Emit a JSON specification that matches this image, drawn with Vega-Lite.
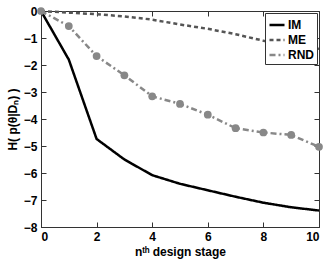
{
  "$schema": "https://vega.github.io/schema/vega-lite/v6.json",
  "width": 278,
  "height": 216,
  "autosize": "none",
  "padding": {"left": 41, "top": 11, "right": 13, "bottom": 34},
  "background": "white",
  "config": {
    "font": "Liberation Sans",
    "view": {"stroke": "#333", "strokeWidth": 1},
    "axis": {
      "grid": false,
      "domainColor": "#333",
      "tickColor": "#333",
      "labelFont": "Liberation Sans",
      "labelFontWeight": "bold",
      "labelFontSize": 12,
      "labelColor": "black",
      "titleFont": "Liberation Sans",
      "titleFontWeight": "bold",
      "titleFontSize": 12,
      "titleColor": "black",
      "tickSize": -5
    }
  },
  "data": {
    "values": [
      {"stage": 0, "series": "IM", "H": 0},
      {"stage": 1, "series": "IM", "H": -1.8},
      {"stage": 2, "series": "IM", "H": -4.74},
      {"stage": 3, "series": "IM", "H": -5.5},
      {"stage": 4, "series": "IM", "H": -6.08},
      {"stage": 5, "series": "IM", "H": -6.4},
      {"stage": 6, "series": "IM", "H": -6.64},
      {"stage": 7, "series": "IM", "H": -6.88},
      {"stage": 8, "series": "IM", "H": -7.1},
      {"stage": 9, "series": "IM", "H": -7.27},
      {"stage": 10, "series": "IM", "H": -7.39},
      {"stage": 0, "series": "ME", "H": 0},
      {"stage": 1, "series": "ME", "H": -0.06},
      {"stage": 2, "series": "ME", "H": -0.12},
      {"stage": 3, "series": "ME", "H": -0.2},
      {"stage": 4, "series": "ME", "H": -0.32},
      {"stage": 5, "series": "ME", "H": -0.5},
      {"stage": 6, "series": "ME", "H": -0.66},
      {"stage": 7, "series": "ME", "H": -0.86},
      {"stage": 8, "series": "ME", "H": -1.1},
      {"stage": 9, "series": "ME", "H": -1.25},
      {"stage": 10, "series": "ME", "H": -1.4},
      {"stage": 0, "series": "RND", "H": 0},
      {"stage": 1, "series": "RND", "H": -0.56},
      {"stage": 2, "series": "RND", "H": -1.67},
      {"stage": 3, "series": "RND", "H": -2.38},
      {"stage": 4, "series": "RND", "H": -3.16},
      {"stage": 5, "series": "RND", "H": -3.44},
      {"stage": 6, "series": "RND", "H": -3.84},
      {"stage": 7, "series": "RND", "H": -4.34},
      {"stage": 8, "series": "RND", "H": -4.5},
      {"stage": 9, "series": "RND", "H": -4.59},
      {"stage": 10, "series": "RND", "H": -5.03}
    ]
  },
  "layer": [
    {
      "mark": {"type": "line", "strokeWidth": 2.5},
      "encoding": {
        "x": {"field": "stage", "type": "quantitative", "scale": {"domain": [0, 10], "nice": false},
              "axis": {"orient": "bottom", "values": [0, 2, 4, 6, 8, 10], "title": "nᵗʰ design stage", "titlePadding": 4, "labelPadding": 9}},
        "y": {"field": "H", "type": "quantitative", "scale": {"domain": [-8, 0], "nice": false},
              "axis": {"orient": "left", "values": [-8, -7, -6, -5, -4, -3, -2, -1, 0], "title": "H( p(θ|Dₙ) )", "titlePadding": 4, "labelPadding": 9}},
        "color": {"field": "series", "type": "nominal",
                  "scale": {"domain": ["IM", "ME", "RND"], "range": ["black", "#555555", "#888888"]},
                  "legend": {"title": null, "orient": "top-right", "offset": 2,
                             "strokeColor": "#333", "fillColor": "white", "padding": 3,
                             "labelFont": "Liberation Sans", "labelFontWeight": "bold", "labelFontSize": 12,
                             "labelColor": "black", "labelOffset": 2, "symbolType": "stroke", "symbolSize": 225,
                             "symbolStrokeWidth": 2.5, "rowPadding": 0}},
        "strokeDash": {"field": "series", "type": "nominal",
                       "scale": {"domain": ["IM", "ME", "RND"], "range": [[1, 0], [4, 3], [6, 3, 2, 3]]},
                       "legend": null}
      }
    },
    {
      "transform": [{"filter": "datum.series == 'RND'"}],
      "mark": {"type": "point", "filled": true, "size": 60, "color": "#888888", "opacity": 1},
      "encoding": {
        "x": {"field": "stage", "type": "quantitative", "axis": null},
        "y": {"field": "H", "type": "quantitative", "axis": null}
      }
    },
    {
      "mark": {"type": "rule", "opacity": 0},
      "encoding": {
        "x": {"field": "stage", "type": "quantitative", "axis": {"orient": "top", "labels": false, "title": null, "domain": false, "values": [0, 2, 4, 6, 8, 10]}},
        "y": {"field": "H", "type": "quantitative", "axis": {"orient": "right", "labels": false, "title": null, "domain": false, "values": [-8, -7, -6, -5, -4, -3, -2, -1, 0]}}
      }
    }
  ],
  "resolve": {"axis": {"x": "independent", "y": "independent"}}
}
